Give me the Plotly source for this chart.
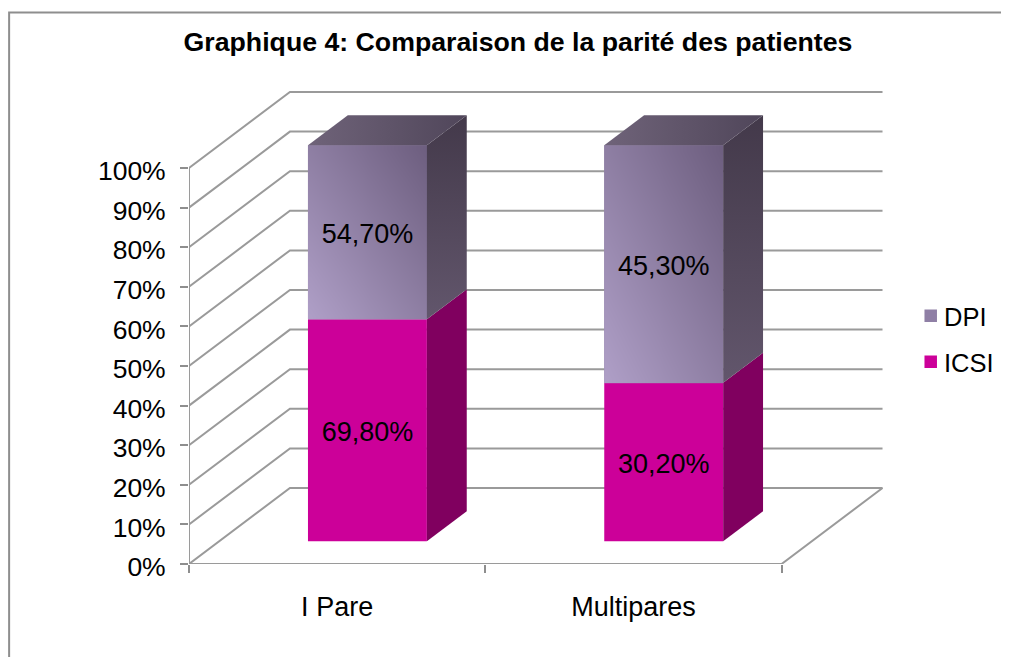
import plotly.graph_objects as go

# Data
categories = ["I Pare", "Multipares"]
icsi_values = [69.8, 30.2]
dpi_values = [54.7, 45.3]
icsi_labels = ["69,80%", "30,20%"]
dpi_labels = ["54,70%", "45,30%"]
y_ticks = [0, 10, 20, 30, 40, 50, 60, 70, 80, 90, 100]
y_tick_labels = ["0%", "10%", "20%", "30%", "40%", "50%", "60%", "70%", "80%", "90%", "100%"]

# Pixel layout of the fake 3D box (window pixels; the page body adds an 8px margin)
W, H = 1009, 657
PAGE = 8
LEFT, RIGHT, TOP, BOTTOM = 188.5, 890, 85, 564
PX_X = 296.5  # pixels per category
PX_Y = 3.96  # pixels per percent
DEPTH_X = 101 / PX_X
DEPTH_Y = 76 / PX_Y
BAR_START = 0.30  # where the bars sit in the depth of the box
BAR_DEPTH = 0.395
BAR_WIDTH = 119 / PX_X
GREY = "#8e8e8e"
GRID = "#9a9a9a"
FONT = "Liberation Sans"
FS = 27
SHADE_STEPS = 24
LABEL_DROP = 4 / PX_Y  # value labels sit a little under the middle of each segment


def px_x(px):
    return (px - LEFT) / (RIGHT - LEFT)


def px_y(py):
    return (BOTTOM - py) / (BOTTOM - TOP)


def ramp(c0, c1):
    return dict(colorscale=[[0, c0], [1, c1]])


def edges(a, b):
    return [a + (b - a) * i / SHADE_STEPS for i in range(SHADE_STEPS + 1)]


x_max = (RIGHT - LEFT) / PX_X
y_max = (BOTTOM - TOP) / PX_Y

# 100% stacked shares
icsi_share = [a / (a + b) * 100 for a, b in zip(icsi_values, dpi_values)]
dpi_share = [100 - s for s in icsi_share]

base_y = BAR_START * DEPTH_Y
centers = [i + 0.5 + BAR_START * DEPTH_X for i in range(len(categories))]
side_x = BAR_DEPTH * DEPTH_X
side_y = BAR_DEPTH * DEPTH_Y

# diagonal shade, 0 = lower left, 1 = upper right
shade = [[(i + j) / (2 * SHADE_STEPS - 2) for i in range(SHADE_STEPS)] for j in range(SHADE_STEPS)]

fig = go.Figure()

# Walls and floor of the box
gx, gy = [], []
for v in y_ticks:
    gx += [0, DEPTH_X, 2 + DEPTH_X, None]
    gy += [v, v + DEPTH_Y, v + DEPTH_Y, None]
gx += [0, 0, None, 0, 2, 2 + DEPTH_X]
gy += [0, 100, None, 0, 0, DEPTH_Y]
fig.add_trace(go.Scatter(x=gx, y=gy, mode="lines", line=dict(color=GRID, width=2),
                         cliponaxis=False, showlegend=False, hoverinfo="skip"))

# Front faces
fig.add_trace(go.Bar(x=centers, y=icsi_share, base=[base_y] * 2, width=BAR_WIDTH, name="ICSI",
                     marker=dict(color="#cc0099", line=dict(width=0)), xaxis="x2", yaxis="y2",
                     showlegend=False))
fig.add_trace(go.Bar(x=centers, y=dpi_share, base=[base_y + s for s in icsi_share], width=BAR_WIDTH,
                     name="DPI", marker=dict(color="#8f7fa5", line=dict(width=0)), xaxis="x2", yaxis="y2",
                     showlegend=False))

# Diagonal shading on the DPI fronts, then the side and top faces
for c, s, d in zip(centers, icsi_share, dpi_share):
    y0 = base_y + s
    y1 = y0 + d
    x0 = c - BAR_WIDTH / 2
    x1 = c + BAR_WIDTH / 2
    fig.add_trace(go.Heatmap(x=edges(x0, x1), y=edges(y0, y1), z=shade, zmin=0, zmax=1, zsmooth="best",
                             colorscale=[[0, "#ae9ec6"], [1, "#6e5f80"]], showscale=False,
                             hoverinfo="skip", xaxis="x3", yaxis="y3"))
    fig.add_trace(go.Scatter(x=[x1, x1 + side_x, x1 + side_x, x1, x1],
                             y=[base_y, base_y + side_y, y0 + side_y, y0, base_y],
                             mode="lines", line=dict(width=0), fill="toself", fillcolor="#80005f",
                             showlegend=False, hoverinfo="skip", xaxis="x3", yaxis="y3"))
    fig.add_trace(go.Scatter(x=[x1, x1 + side_x, x1 + side_x, x1, x1],
                             y=[y0, y0 + side_y, y1 + side_y, y1, y0],
                             mode="lines", line=dict(width=0), fill="toself",
                             fillgradient=dict(type="vertical", **ramp("#62566c", "#43394a")),
                             showlegend=False, hoverinfo="skip", xaxis="x3", yaxis="y3"))
    fig.add_trace(go.Scatter(x=[x0, x0 + side_x, x1 + side_x, x1, x0],
                             y=[y1, y1 + side_y, y1 + side_y, y1, y1],
                             mode="lines", line=dict(width=0), fill="toself",
                             fillgradient=dict(type="horizontal", **ramp("#6f6379", "#50465a")),
                             showlegend=False, hoverinfo="skip", xaxis="x3", yaxis="y3"))

# Value labels
fig.add_trace(go.Scatter(
    x=centers + centers,
    y=[base_y + s / 2 - LABEL_DROP for s in icsi_share]
      + [base_y + s + d / 2 - LABEL_DROP for s, d in zip(icsi_share, dpi_share)],
    text=icsi_labels + dpi_labels, mode="text", textposition="middle center",
    textfont=dict(family=FONT, size=FS, color="#000000"),
    showlegend=False, hoverinfo="skip", xaxis="x3", yaxis="y3"))

axis_off = dict(range=[0, x_max], visible=False, overlaying="x")
fig.update_layout(
    width=W - PAGE, height=H - PAGE, autosize=False,
    margin=dict(l=LEFT - PAGE, r=W - RIGHT, t=TOP - PAGE, b=H - BOTTOM, pad=0),
    paper_bgcolor="white", plot_bgcolor="white",
    barmode="overlay", showlegend=False,
    font=dict(family=FONT, size=FS, color="#000000"),
    title=dict(text="<b>Graphique 4: Comparaison de la parité des patientes</b>",
               font=dict(family=FONT, size=26.7, color="#000000"),
               x=(518 - PAGE) / (W - PAGE), xref="container", xanchor="center",
               y=1 - (42 - PAGE) / (H - PAGE), yref="container", yanchor="middle"),
    xaxis=dict(range=[0, x_max], showgrid=False, zeroline=False, showline=False,
               tickmode="array", tickvals=[0.5, 1.5], ticktext=categories, ticks="", ticklen=0,
               ticklabelstandoff=24,
               minor=dict(tickmode="array", tickvals=[0, 1, 2], ticks="outside", ticklen=8,
                          tickwidth=2, tickcolor=GREY, showgrid=False)),
    yaxis=dict(range=[0, y_max], showgrid=False, zeroline=False, showline=False,
               tickmode="array", tickvals=y_ticks, ticktext=y_tick_labels, ticks="outside", ticklen=8,
               tickwidth=2, tickcolor=GREY, ticklabelstandoff=9, ticklabelshift=3, tickfont=dict(size=26.5)),
    xaxis2=axis_off, xaxis3=axis_off,
    yaxis2=dict(range=[0, y_max], visible=False, overlaying="y"),
    yaxis3=dict(range=[0, y_max], visible=False, overlaying="y"),
    shapes=[
        # frame, open to the right and bottom like the source image
        dict(type="path", xref="paper", yref="paper", line=dict(color=GREY, width=2),
             path=f"M {px_x(8.5)} {px_y(H)} L {px_x(8.5)} {px_y(12.5)} L {px_x(W)} {px_y(12.5)}"),
        # legend swatches
        dict(type="rect", xref="paper", yref="paper", x0=px_x(924.5), x1=px_x(937), y0=px_y(322), y1=px_y(309.5),
             fillcolor="#8f7fa5", line=dict(width=0)),
        dict(type="rect", xref="paper", yref="paper", x0=px_x(924.5), x1=px_x(937), y0=px_y(368), y1=px_y(355.5),
             fillcolor="#cc0099", line=dict(width=0)),
    ],
    annotations=[
        dict(text="DPI", xref="paper", yref="paper", x=px_x(942.5), y=px_y(317), xanchor="left", yanchor="middle",
             showarrow=False, font=dict(family=FONT, size=25.5)),
        dict(text="ICSI", xref="paper", yref="paper", x=px_x(942.5), y=px_y(363), xanchor="left", yanchor="middle",
             showarrow=False, font=dict(family=FONT, size=25.5)),
    ],
)

fig.write_html("out.html", config={"displayModeBar": False})
